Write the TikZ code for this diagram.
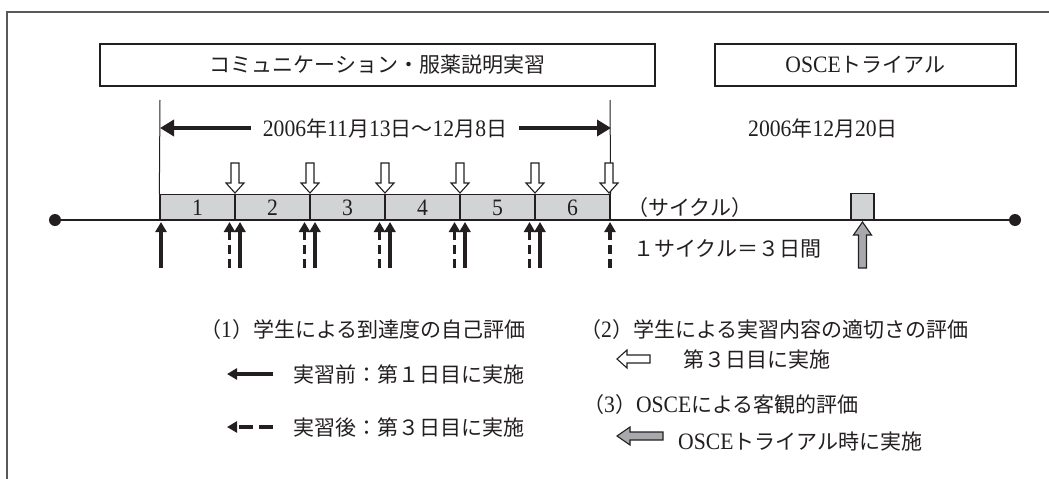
\documentclass[tikz,border=0pt]{standalone}
\usepackage{fontspec}
\usepackage{graphicx}
\setmainfont{Liberation Serif}[Scale=1.12,FakeStretch=0.92]
\newfontfamily\jp{Noto Sans CJK JP}
\newcommand\J[1]{{\jp #1}}
\usetikzlibrary{arrows.meta}
\definecolor{ink}{HTML}{231F20}
\definecolor{cyc}{HTML}{D1D3D4}
\definecolor{garrow}{HTML}{A7A9AC}
\definecolor{framec}{HTML}{58595B}
\newcommand\blkarrow[6]{%
  \begin{scope}[shift={(#1,#2)},rotate=#3]
    \draw[line width=1.1pt, draw=ink, fill=#6] (0,0) -- (-#5,9) -- (-#5,4) -- (-#4,4) -- (-#4,-4) -- (-#5,-4) -- (-#5,-9) -- cycle;
  \end{scope}}
\begin{document}
\begin{tikzpicture}[x=1pt,y=-1pt,
  txt/.style={font=\fontsize{21}{25}\selectfont, text=ink, inner sep=0pt},
  box/.style={draw=ink, line width=1.3pt, fill=white, font=\fontsize{21}{25}\selectfont, text=ink},
  cycbox/.style={draw=ink, line width=1.3pt, fill=cyc, minimum width=75pt, minimum height=26pt, inner sep=0pt, font=\fontsize{21}{25}\selectfont, text=ink},
  dotnode/.style={circle, fill=ink, minimum size=12pt, inner sep=0pt},
  solidarr/.style={draw=ink, line width=3.2pt, -{Triangle[width=11pt,length=10pt]}},
  dasharr/.style={draw=ink, line width=3.2pt, dash pattern=on 9pt off 5pt, -{Triangle[width=11pt,length=10pt]}},
  datearr/.style={draw=ink, line width=4pt, -{Triangle[width=16pt,length=14pt]}},
  thin/.style={draw=ink, line width=1pt}]
\useasboundingbox (0,0) rectangle (1049,479);
\draw[framec, line width=1.5pt] (7,479) -- (7,12) -- (1049,12);

% header boxes
\node[box, minimum width=555pt, minimum height=42pt] (prac) at (377.5,65) {\jp コミュニケーション・服薬説明実習};
\node[box, minimum width=301pt, minimum height=42pt] (osce) at (865.5,65) {OSCE\J{トライアル}};

% cycles
\foreach \i in {1,...,6} \node[cycbox] (c\i) at ({122.5+75*\i},207.5) {\i};
\node[cycbox, minimum width=23pt, minimum height=27pt] (oscebox) at (862.5,207) {};

% vertical lines and date
\coordinate (vl1) at (160,100);
\coordinate (vl2) at (610,100);
\draw[thin] (vl1) -- (c1.north west);
\draw[thin] (vl2) -- (c6.north east);
\node[txt] (date) at (385,128) {2006\J{年}11\J{月}13\J{日～}12\J{月}8\J{日}};
\coordinate (da1) at (160,128);
\coordinate (da2) at (611,128);
\draw[datearr] ([xshift=-12pt]date.west) -- (da1);
\draw[datearr] ([xshift=12pt]date.east) -- (da2);
\node[txt] (odate) at (823,128) {2006\J{年}12\J{月}20\J{日}};

% timeline
\node[dotnode] (tl0) at (55,220) {};
\node[dotnode] (tl1) at (1015,220) {};
\draw[draw=ink, line width=2.2pt] (tl0) -- (tl1);

% hollow down arrows
\foreach \x in {235,310,385,460,535,609} \blkarrow{\x}{193}{-90}{30}{10}{white};

% up arrows
\foreach \x [count=\k] in {161,240,315,390,465,540} {
  \coordinate (sa\k) at (\x,268); \coordinate (st\k) at (\x,222);
  \draw[solidarr] (sa\k) -- (st\k);}
\foreach \x [count=\k] in {229.5,304.5,379.5,454.5,529.5,610} {
  \coordinate (da\k b) at (\x,268); \coordinate (da\k t) at (\x,222);
  \draw[dasharr] (da\k b) -- (da\k t);}
\blkarrow{862.5}{222}{90}{46}{13}{garrow}

\node[txt, anchor=west] (cyc) at (627,208) {\jp （サイクル）};
\node[txt, anchor=west] (cyclen) at (633,249) {\jp １サイクル＝３日間};

% legend
\node[txt, anchor=west] (l1) at (200,330) {\J{（}1\J{）学生による到達度の自己評価}};
\coordinate (l1a) at (273,374); \coordinate (l1b) at (227,374);
\draw[solidarr] (l1a) -- (l1b);
\node[txt, anchor=west] (l1t) at (293,374) {\jp 実習前：第１日目に実施};
\coordinate (l2a) at (273,427); \coordinate (l2b) at (227,427);
\draw[dasharr, dash pattern=on 14pt off 6pt] (l2a) -- (l2b);
\node[txt, anchor=west] (l2t) at (293,427) {\jp 実習後：第３日目に実施};

\node[txt, anchor=west] (l3) at (580,330) {\J{（}2\J{）学生による実習内容の適切さの評価}};
\blkarrow{617}{359}{180}{33}{10}{white}
\node[txt, anchor=west] (l3t) at (683,359) {\jp 第３日目に実施};
\node[txt, anchor=west] (l4) at (583,405) {\J{（}3\J{）}OSCE\J{による客観的評価}};
\blkarrow{617}{436}{180}{46}{13}{garrow}
\node[txt, anchor=west] (l4t) at (678,442) {OSCE\J{トライアル時に実施}};
\end{tikzpicture}
\end{document}
